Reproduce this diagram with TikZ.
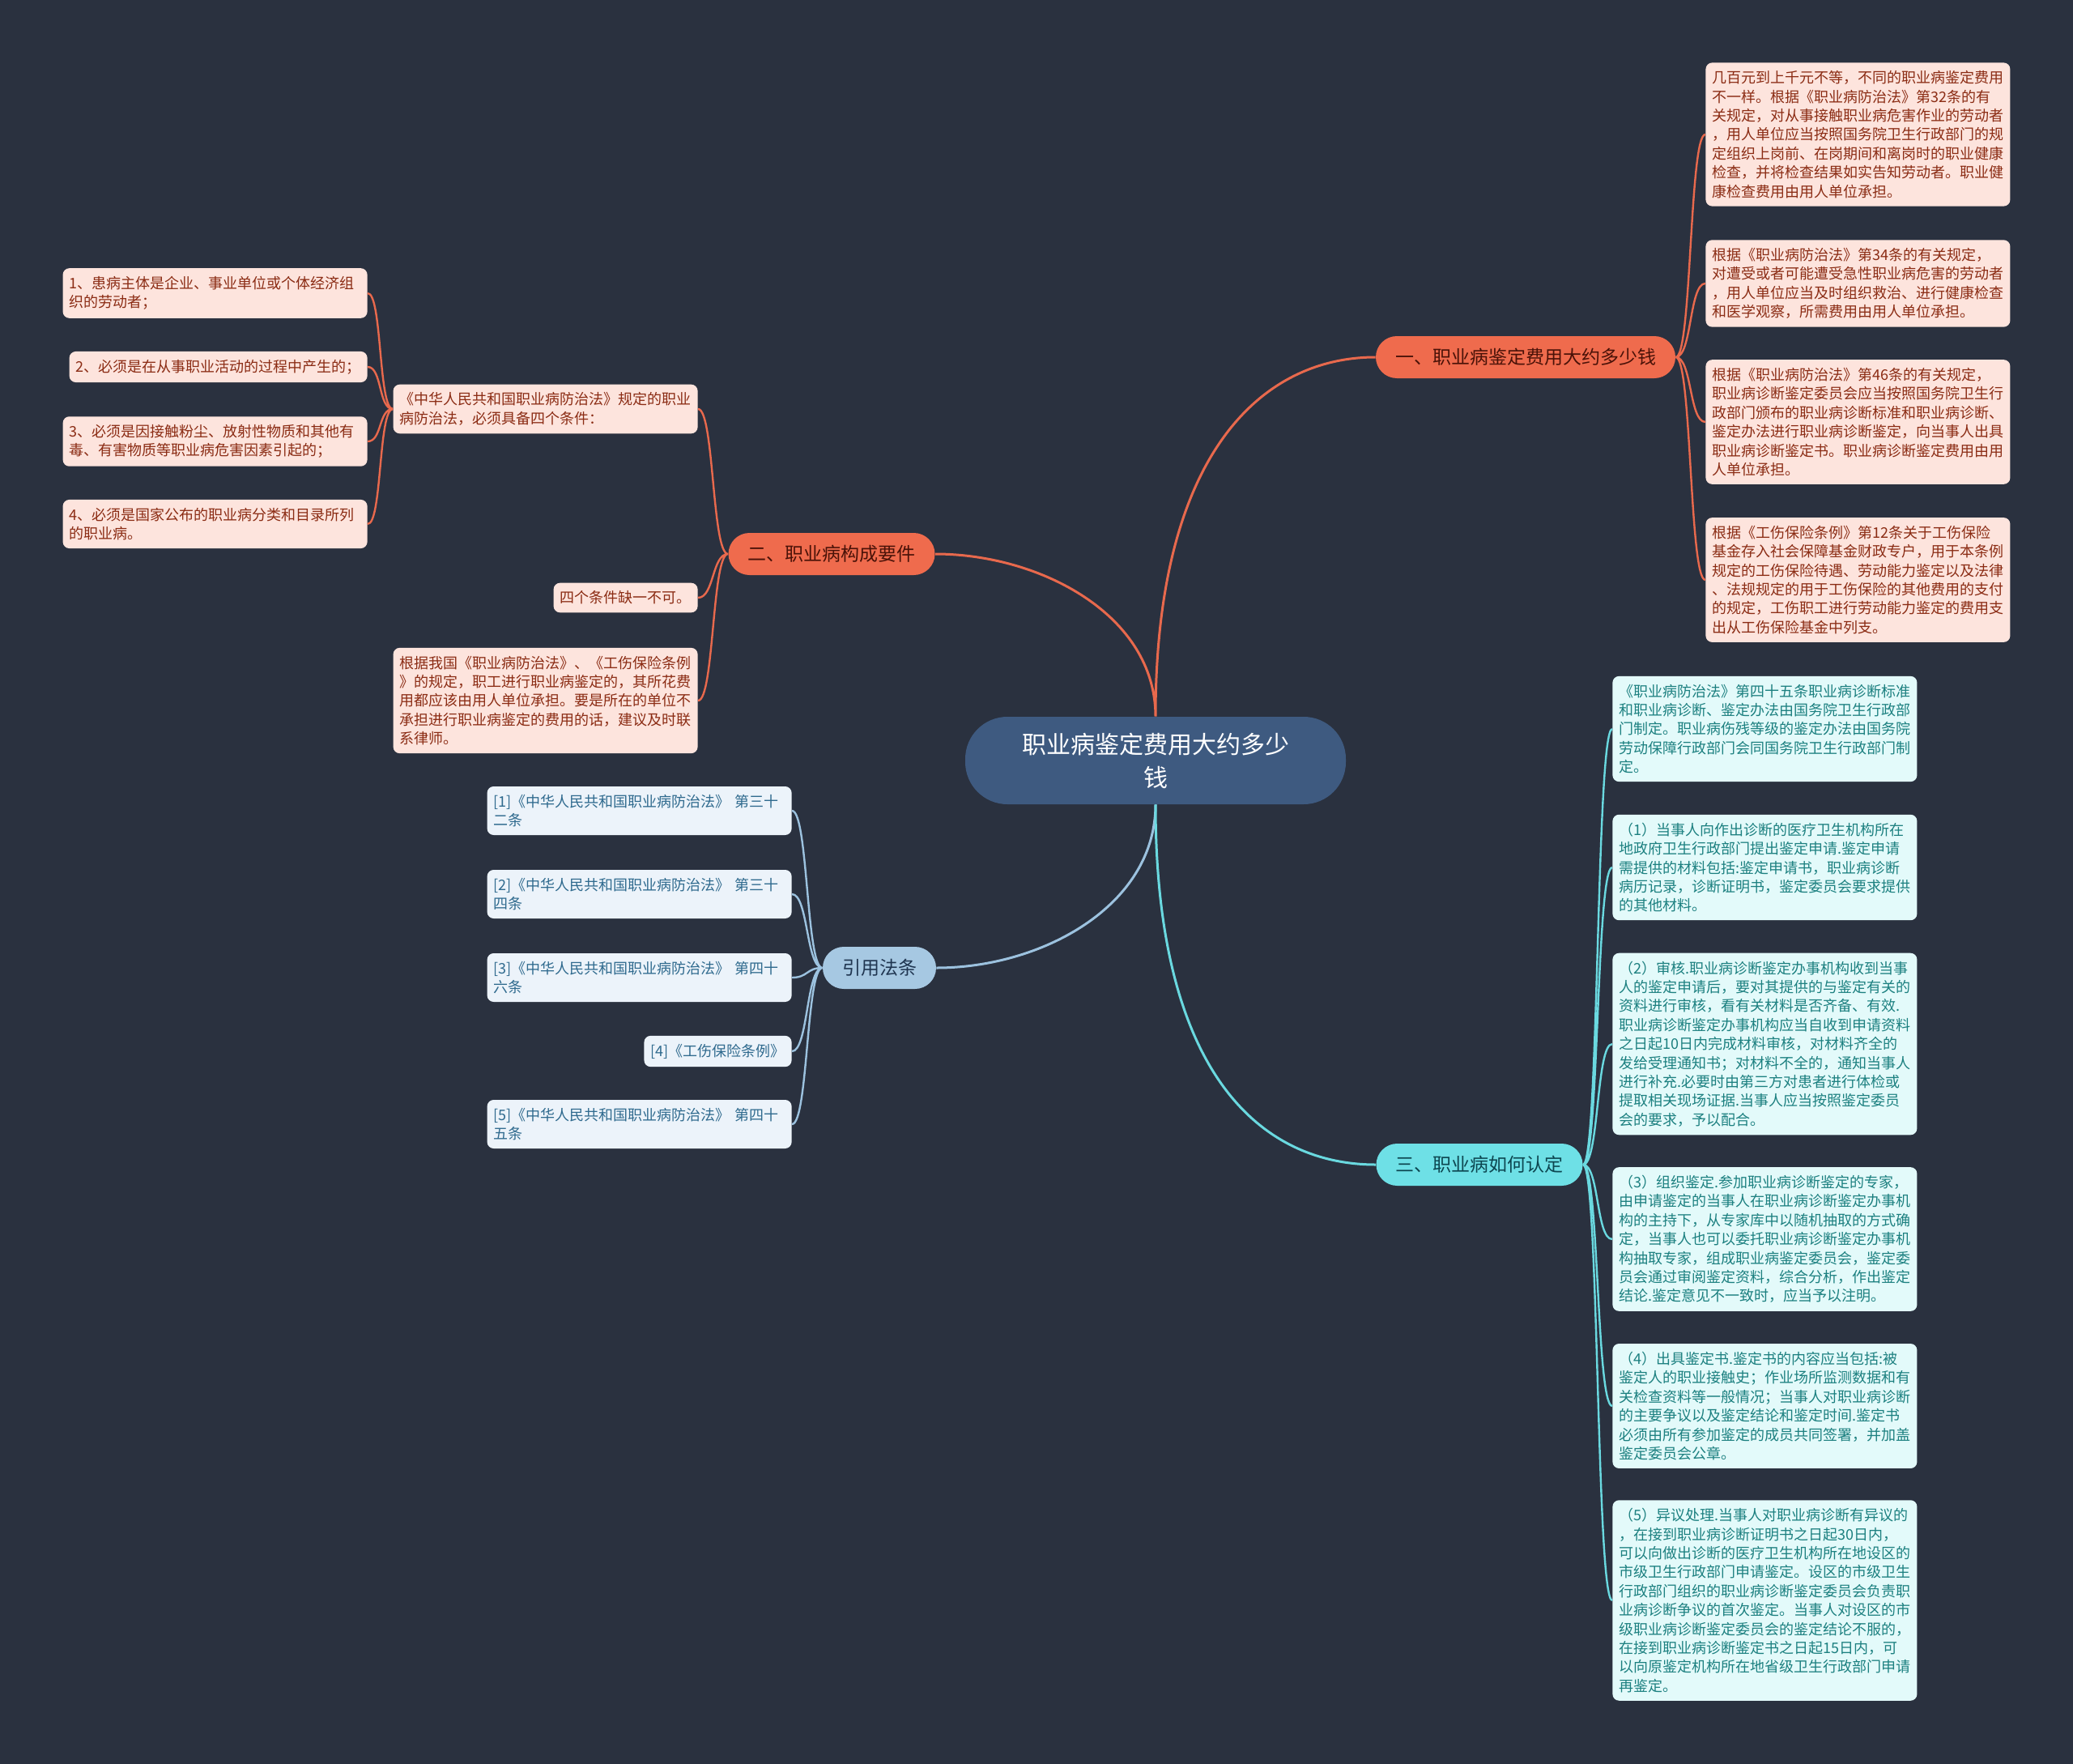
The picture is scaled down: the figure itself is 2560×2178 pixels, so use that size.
\documentclass[tikz,border=0pt]{standalone}
\usepackage{fontspec}
\setmainfont{Noto Sans CJK SC}
\usepackage{xcolor}
\usepackage{tikz}
\usetikzlibrary{positioning}

\definecolor{bgdark}{HTML}{2A313F}
\definecolor{rootfill}{HTML}{3E5A80}
\definecolor{redfill}{HTML}{EF6B4D}
\definecolor{redtext}{HTML}{4A1208}
\definecolor{redline}{HTML}{E8694D}
\definecolor{pinkfill}{HTML}{FDE4DD}
\definecolor{pinktext}{HTML}{8B2C14}
\definecolor{bluefill}{HTML}{A6C8E2}
\definecolor{bluetext}{HTML}{1F3550}
\definecolor{blueline}{HTML}{9CC2DF}
\definecolor{paleblue}{HTML}{ECF3FA}
\definecolor{palebluetext}{HTML}{2F6A8E}
\definecolor{cyanfill}{HTML}{6EE0E6}
\definecolor{cyantext}{HTML}{0D4650}
\definecolor{cyanline}{HTML}{6AD9E0}
\definecolor{palecyan}{HTML}{E3FAFA}
\definecolor{palecyantext}{HTML}{1C8080}

\begin{document}
\begin{tikzpicture}[x=0.5pt,y=-0.5pt]
			\tikzstyle{root}=[fill=rootfill,text=white,rounded corners=26pt,minimum width=235pt,minimum height=54pt,text width=170pt,align=center,font=\fontsize{15pt}{20.5pt}\selectfont]
			\tikzstyle{branch}=[rounded corners=13pt,minimum height=26pt,inner xsep=12pt,font=\fontsize{11.5pt}{14pt}\selectfont]
			\tikzstyle{leaf}=[rounded corners=4pt,inner xsep=4pt,inner ysep=5pt,align=left,font=\fontsize{9pt}{11.7pt}\selectfont]
			\tikzstyle{wide}=[text width=180pt]
			\tikzstyle{pinkleaf}=[leaf,fill=pinkfill,text=pinktext]
			\tikzstyle{refleaf}=[leaf,fill=paleblue,text=palebluetext]
			\tikzstyle{cyanleaf}=[leaf,fill=palecyan,text=palecyantext]
			\tikzstyle{trunk}=[line width=1.5pt]
			\tikzstyle{twig}=[line width=1.2pt]
			% background
			\fill[bgdark] (0,0) rectangle (2560,2178);
			% root and branches
			\node[root](c) at (1427,939) {职业病鉴定费用大约多少\\钱};
			\node[branch,fill=redfill,text=redtext](b1) at (1884,441) {一、职业病鉴定费用大约多少钱};
			\node[branch,fill=redfill,text=redtext](b2) at (1027,684) {二、职业病构成要件};
			\node[branch,fill=bluefill,text=bluetext](b3) at (1086,1195) {引用法条};
			\node[branch,fill=cyanfill,text=cyantext](b4) at (1827,1438) {三、职业病如何认定};
			% branch 1
			\node[pinkleaf,wide,anchor=west](l1) at (2106,166) {几百元到上千元不等，不同的职业病鉴定费用\\不一样。根据《职业病防治法》第32条的有\\关规定，对从事接触职业病危害作业的劳动者\\，用人单位应当按照国务院卫生行政部门的规\\定组织上岗前、在岗期间和离岗时的职业健康\\检查，并将检查结果如实告知劳动者。职业健\\康检查费用由用人单位承担。};
			\node[pinkleaf,wide,anchor=west](l2) at (2106,350) {根据《职业病防治法》第34条的有关规定，\\对遭受或者可能遭受急性职业病危害的劳动者\\，用人单位应当及时组织救治、进行健康检查\\和医学观察，所需费用由用人单位承担。};
			\node[pinkleaf,wide,anchor=west](l3) at (2106,521) {根据《职业病防治法》第46条的有关规定，\\职业病诊断鉴定委员会应当按照国务院卫生行\\政部门颁布的职业病诊断标准和职业病诊断、\\鉴定办法进行职业病诊断鉴定，向当事人出具\\职业病诊断鉴定书。职业病诊断鉴定费用由用\\人单位承担。};
			\node[pinkleaf,wide,anchor=west](l4) at (2106,716) {根据《工伤保险条例》第12条关于工伤保险\\基金存入社会保障基金财政专户，用于本条例\\规定的工伤保险待遇、劳动能力鉴定以及法律\\、法规规定的用于工伤保险的其他费用的支付\\的规定，工伤职工进行劳动能力鉴定的费用支\\出从工伤保险基金中列支。};
			% branch 2
			\node[pinkleaf,wide,anchor=east](a) at (862,505) {《中华人民共和国职业病防治法》规定的职业\\病防治法，必须具备四个条件：};
			\node[pinkleaf,anchor=east](b) at (862,738) {四个条件缺一不可。};
			\node[pinkleaf,wide,anchor=east](d) at (862,865) {根据我国《职业病防治法》、《工伤保险条例\\》的规定，职工进行职业病鉴定的，其所花费\\用都应该由用人单位承担。要是所在的单位不\\承担进行职业病鉴定的费用的话，建议及时联\\系律师。};
			\node[pinkleaf,wide,anchor=east](a1) at (454,362) {1、患病主体是企业、事业单位或个体经济组\\织的劳动者；};
			\node[pinkleaf,anchor=east](a2) at (454,453) {2、必须是在从事职业活动的过程中产生的；};
			\node[pinkleaf,wide,anchor=east](a3) at (454,545) {3、必须是因接触粉尘、放射性物质和其他有\\毒、有害物质等职业病危害因素引起的；};
			\node[pinkleaf,wide,anchor=east](a4) at (454,647) {4、必须是国家公布的职业病分类和目录所列\\的职业病。};
			% references
			\node[refleaf,wide,anchor=east](r1) at (978,1001) {[1]《中华人民共和国职业病防治法》 第三十\\二条};
			\node[refleaf,wide,anchor=east](r2) at (978,1104) {[2]《中华人民共和国职业病防治法》 第三十\\四条};
			\node[refleaf,wide,anchor=east](r3) at (978,1207) {[3]《中华人民共和国职业病防治法》 第四十\\六条};
			\node[refleaf,anchor=east](r4) at (978,1298) {[4]《工伤保险条例》};
			\node[refleaf,wide,anchor=east](r5) at (978,1388) {[5]《中华人民共和国职业病防治法》 第四十\\五条};
			% branch 3
			\node[cyanleaf,wide,anchor=west](s1) at (1991,900) {《职业病防治法》第四十五条职业病诊断标准\\和职业病诊断、鉴定办法由国务院卫生行政部\\门制定。职业病伤残等级的鉴定办法由国务院\\劳动保障行政部门会同国务院卫生行政部门制\\定。};
			\node[cyanleaf,wide,anchor=west](s2) at (1991,1071) {（1）当事人向作出诊断的医疗卫生机构所在\\地政府卫生行政部门提出鉴定申请.鉴定申请\\需提供的材料包括:鉴定申请书，职业病诊断\\病历记录，诊断证明书，鉴定委员会要求提供\\的其他材料。};
			\node[cyanleaf,wide,anchor=west](s3) at (1991,1289) {（2）审核.职业病诊断鉴定办事机构收到当事\\人的鉴定申请后，要对其提供的与鉴定有关的\\资料进行审核，看有关材料是否齐备、有效.\\职业病诊断鉴定办事机构应当自收到申请资料\\之日起10日内完成材料审核，对材料齐全的\\发给受理通知书；对材料不全的，通知当事人\\进行补充.必要时由第三方对患者进行体检或\\提取相关现场证据.当事人应当按照鉴定委员\\会的要求，予以配合。};
			\node[cyanleaf,wide,anchor=west](s4) at (1991,1530) {（3）组织鉴定.参加职业病诊断鉴定的专家，\\由申请鉴定的当事人在职业病诊断鉴定办事机\\构的主持下，从专家库中以随机抽取的方式确\\定，当事人也可以委托职业病诊断鉴定办事机\\构抽取专家，组成职业病鉴定委员会，鉴定委\\员会通过审阅鉴定资料，综合分析，作出鉴定\\结论.鉴定意见不一致时，应当予以注明。};
			\node[cyanleaf,wide,anchor=west](s5) at (1991,1736) {（4）出具鉴定书.鉴定书的内容应当包括:被\\鉴定人的职业接触史；作业场所监测数据和有\\关检查资料等一般情况；当事人对职业病诊断\\的主要争议以及鉴定结论和鉴定时间.鉴定书\\必须由所有参加鉴定的成员共同签署，并加盖\\鉴定委员会公章。};
			\node[cyanleaf,wide,anchor=west](s6) at (1991,1976) {（5）异议处理.当事人对职业病诊断有异议的\\，在接到职业病诊断证明书之日起30日内，\\可以向做出诊断的医疗卫生机构所在地设区的\\市级卫生行政部门申请鉴定。设区的市级卫生\\行政部门组织的职业病诊断鉴定委员会负责职\\业病诊断争议的首次鉴定。当事人对设区的市\\级职业病诊断鉴定委员会的鉴定结论不服的，\\在接到职业病诊断鉴定书之日起15日内，可\\以向原鉴定机构所在地省级卫生行政部门申请\\再鉴定。};
			% root to branches
			\path[trunk,draw=redline]
				(c.north) .. controls +(0,-325) and +(-140,0) .. (b1.west)
				(c.north) .. controls +(0,-125) and +(130,0) .. (b2.east);
			\path[trunk,draw=blueline]
				(c.south) .. controls +(0,125) and +(130,0) .. (b3.east);
			\path[trunk,draw=cyanline]
				(c.south) .. controls +(0,335) and +(-140,0) .. (b4.west);
			% branches to leaves
			\path[twig,draw=redline]
				(b1.east) .. controls +(20,0) and +(-20,0) .. (l1.west)
				(b1.east) .. controls +(20,0) and +(-20,0) .. (l2.west)
				(b1.east) .. controls +(20,0) and +(-20,0) .. (l3.west)
				(b1.east) .. controls +(20,0) and +(-20,0) .. (l4.west)
				(b2.west) .. controls +(-20,0) and +(20,0) .. (a.east)
				(b2.west) .. controls +(-20,0) and +(20,0) .. (b.east)
				(b2.west) .. controls +(-20,0) and +(20,0) .. (d.east)
				(a.west) .. controls +(-18,0) and +(18,0) .. (a1.east)
				(a.west) .. controls +(-18,0) and +(18,0) .. (a2.east)
				(a.west) .. controls +(-18,0) and +(18,0) .. (a3.east)
				(a.west) .. controls +(-18,0) and +(18,0) .. (a4.east);
			\path[twig,draw=blueline]
				(b3.west) .. controls +(-20,0) and +(20,0) .. (r1.east)
				(b3.west) .. controls +(-20,0) and +(20,0) .. (r2.east)
				(b3.west) .. controls +(-20,0) and +(20,0) .. (r3.east)
				(b3.west) .. controls +(-20,0) and +(20,0) .. (r4.east)
				(b3.west) .. controls +(-20,0) and +(20,0) .. (r5.east);
			\path[twig,draw=cyanline]
				(b4.east) .. controls +(20,0) and +(-20,0) .. (s1.west)
				(b4.east) .. controls +(20,0) and +(-20,0) .. (s2.west)
				(b4.east) .. controls +(20,0) and +(-20,0) .. (s3.west)
				(b4.east) .. controls +(20,0) and +(-20,0) .. (s4.west)
				(b4.east) .. controls +(20,0) and +(-20,0) .. (s5.west)
				(b4.east) .. controls +(20,0) and +(-20,0) .. (s6.west);
\end{tikzpicture}
\end{document}
